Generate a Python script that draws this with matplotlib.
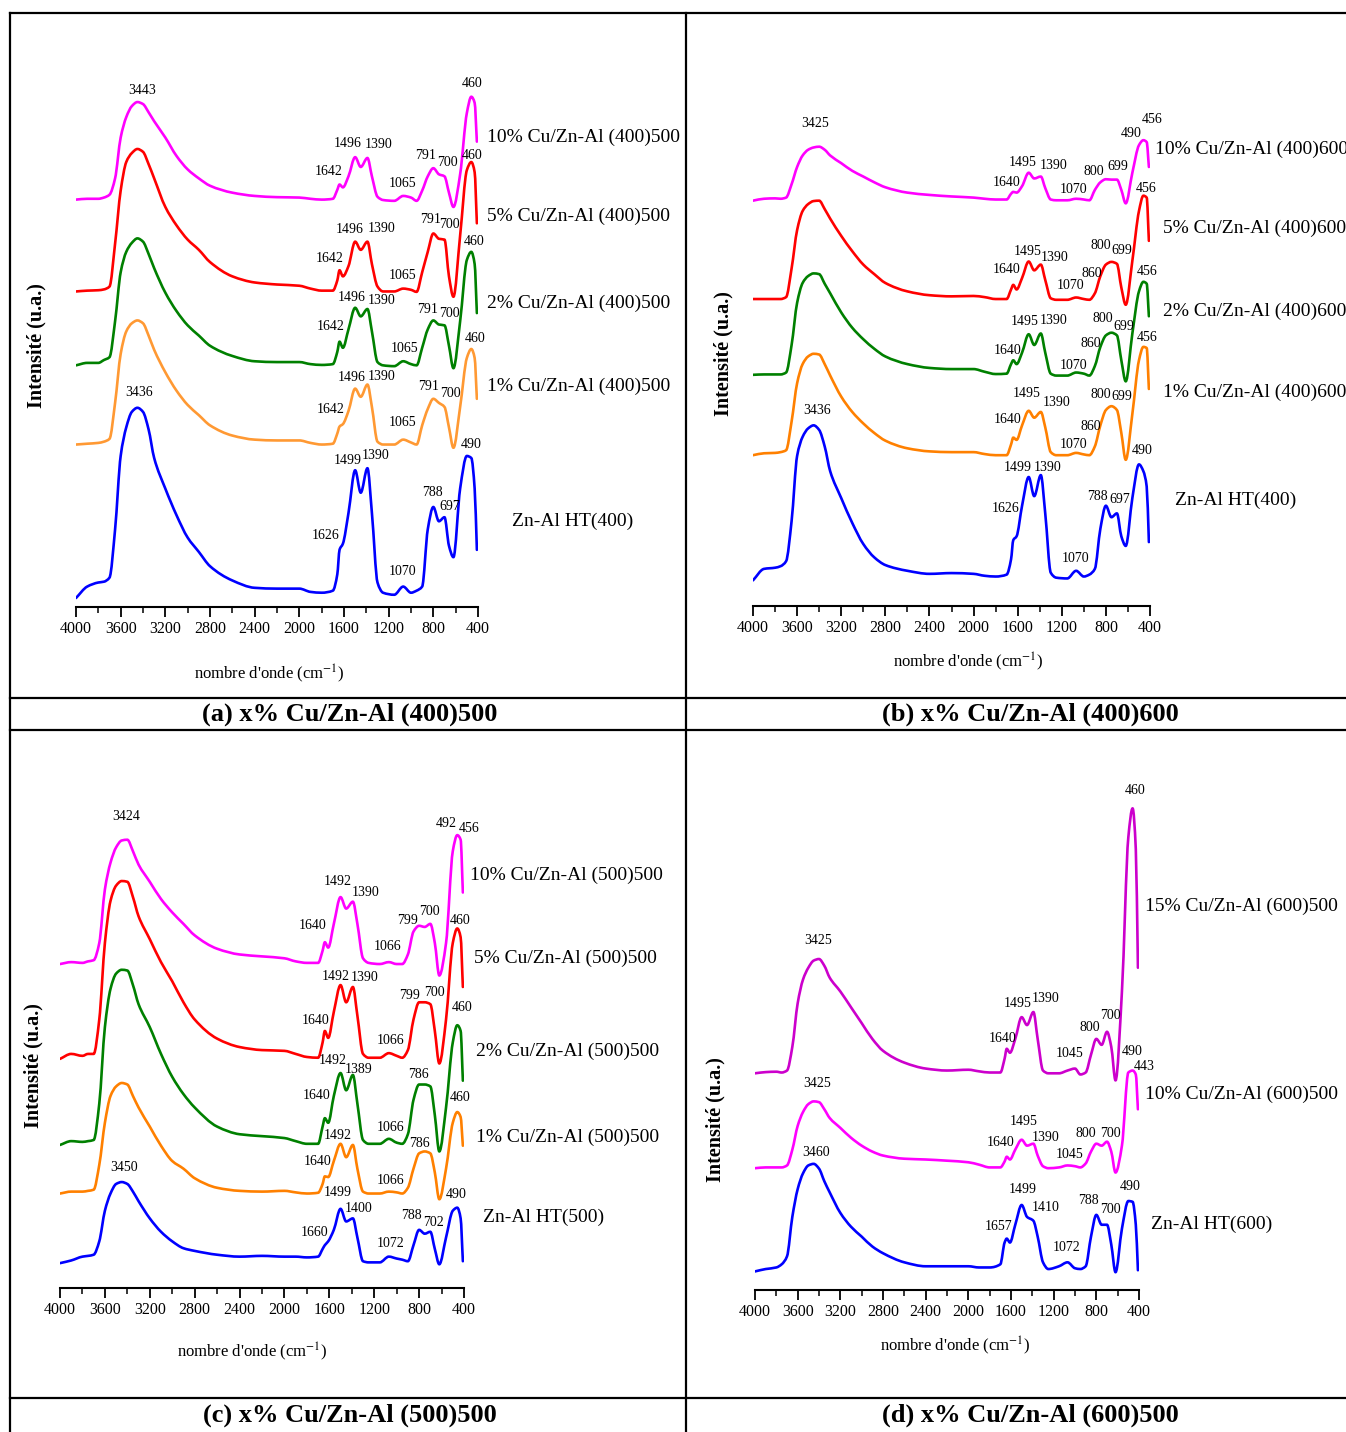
import numpy as np
import matplotlib.pyplot as plt
from matplotlib.ticker import MultipleLocator
from matplotlib.lines import Line2D
from matplotlib.path import Path
from matplotlib.patches import PathPatch

plt.rcParams['font.family'] = ['Liberation Serif', 'DejaVu Serif']
plt.rcParams['mathtext.fontset'] = 'stix'

W, H = 1346, 1432

# wavenumber grid (cm-1) shared by all spectra
wn = [4000, 3900, 3800, 3750, 3700, 3650, 3600, 3550, 3500, 3450, 3400, 3350, 3300, 3200, 3100,
      3000, 2900, 2800, 2600, 2400, 2200, 2000, 1900, 1800, 1700, 1660, 1640, 1610, 1560, 1500,
      1450, 1390, 1350, 1300, 1250, 1150, 1070, 1000, 950, 900, 850, 800, 750, 700, 660, 620,
      560, 500, 460, 430, 410]

# (a) x% Cu/Zn-Al (400)500, intensities in a.u.
a_10 = [998, 1000, 1000, 1003, 1010, 1050, 1150, 1200, 1227, 1237, 1232, 1212, 1190, 1150, 1105,
        1072, 1050, 1032, 1015, 1007, 1004, 1003, 1000, 998, 1000, 1022, 1035, 1028, 1055, 1102,
        1078, 1100, 1055, 1005, 997, 995, 1007, 1003, 995, 1020, 1055, 1075, 1060, 1055, 1015, 980,
        1060, 1210, 1250, 1235, 1140]
a_5 = [773, 775, 776, 778, 785, 890, 1020, 1090, 1112, 1122, 1115, 1085, 1050, 980, 935,
       900, 875, 845, 810, 795, 790, 787, 780, 775, 775, 800, 825, 810, 835, 895,
       875, 895, 840, 785, 773, 773, 780, 777, 772, 820, 870, 915, 902, 900, 810, 760,
       910, 1070, 1090, 1065, 940]
a_2 = [592, 598, 598, 605, 612, 700, 820, 870, 892, 903, 895, 865, 830, 770, 725,
       690, 665, 640, 615, 602, 600, 600, 595, 593, 595, 625, 650, 635, 680, 733,
       712, 730, 675, 600, 592, 590, 602, 595, 592, 635, 680, 702, 692, 690, 640, 585,
       700, 850, 870, 840, 720]
a_1 = [398, 400, 402, 405, 412, 500, 620, 675, 695, 702, 695, 665, 630, 575, 530,
       495, 470, 445, 420, 410, 408, 408, 402, 398, 400, 425, 442, 448, 480, 535,
       515, 545, 490, 405, 398, 398, 410, 403, 398, 445, 485, 510, 500, 490, 440, 390,
       490, 610, 632, 610, 510]
a_ht = [22, 50, 60, 62, 72, 190, 370, 440, 478, 488, 478, 435, 365, 290, 225,
        170, 135, 100, 65, 47, 45, 45, 37, 35, 40, 80, 140, 155, 230, 335,
        280, 340, 230, 60, 35, 30, 50, 35, 40, 50, 190, 245, 210, 220, 150, 122,
        290, 370, 365, 290, 140]

# (b) x% Cu/Zn-Al (400)600
b_10 = [1059, 1064, 1065, 1064, 1067, 1102, 1147, 1177, 1192, 1198, 1200, 1192, 1177, 1157, 1137,
        1122, 1107, 1094, 1080, 1074, 1070, 1067, 1064, 1062, 1062, 1077, 1082, 1080, 1097, 1132,
        1117, 1122, 1092, 1062, 1060, 1060, 1064, 1062, 1060, 1087, 1107, 1115, 1114, 1114, 1087, 1052,
        1132, 1204, 1217, 1212, 1147]
b_5 = [802, 802, 802, 802, 807, 882, 982, 1032, 1050, 1058, 1059, 1037, 1012, 967, 927,
       892, 867, 844, 822, 812, 809, 810, 807, 802, 802, 827, 839, 827, 857, 900,
       877, 892, 852, 804, 800, 800, 806, 802, 800, 817, 862, 892, 899, 894, 832, 787,
       902, 1032, 1072, 1067, 954]
b_2 = [604, 605, 605, 605, 610, 682, 792, 844, 862, 869, 867, 842, 817, 767, 727,
       697, 672, 652, 632, 622, 619, 619, 612, 606, 607, 632, 642, 632, 662, 710,
       682, 712, 662, 607, 602, 602, 610, 607, 602, 627, 677, 707, 714, 707, 642, 587,
       712, 822, 847, 842, 757]
b_1 = [394, 399, 400, 402, 407, 482, 582, 632, 652, 659, 657, 632, 602, 547, 507,
       477, 452, 432, 412, 404, 402, 402, 397, 394, 394, 422, 440, 434, 472, 510,
       492, 507, 467, 402, 394, 394, 400, 396, 394, 417, 472, 512, 522, 512, 452, 382,
       502, 642, 677, 674, 567]
b_ht = [67, 97, 100, 104, 117, 222, 392, 442, 464, 472, 460, 417, 352, 282, 217,
        162, 127, 107, 92, 84, 86, 84, 79, 77, 82, 122, 172, 182, 262, 337,
        287, 342, 242, 87, 74, 72, 92, 77, 82, 97, 202, 262, 232, 242, 182, 157,
        282, 370, 352, 312, 167]

# (c) x% Cu/Zn-Al (500)500
c_10 = [847, 852, 850, 854, 857, 902, 1042, 1112, 1152, 1170, 1172, 1142, 1107, 1062, 1017,
        982, 952, 922, 887, 872, 867, 862, 854, 850, 850, 882, 904, 890, 952, 1022,
        992, 1010, 952, 862, 850, 847, 852, 847, 847, 872, 932, 947, 944, 952, 902, 817,
        902, 1142, 1184, 1172, 1034]
c_5 = [599, 612, 607, 612, 612, 702, 902, 1012, 1052, 1064, 1062, 1022, 972, 912, 852,
       802, 747, 702, 652, 630, 622, 620, 612, 604, 602, 642, 672, 654, 722, 792,
       747, 787, 712, 612, 602, 602, 614, 607, 602, 622, 702, 747, 747, 742, 672, 587,
       702, 902, 940, 917, 787]
c_2 = [374, 384, 382, 384, 387, 482, 682, 782, 822, 832, 830, 792, 742, 682, 612,
       552, 507, 472, 422, 402, 397, 392, 384, 377, 377, 422, 444, 432, 502, 562,
       517, 557, 482, 387, 377, 377, 390, 380, 377, 402, 492, 532, 532, 527, 452, 357,
       472, 642, 687, 672, 542]
c_1 = [247, 252, 252, 254, 257, 322, 432, 502, 527, 536, 532, 502, 472, 422, 372,
       332, 312, 287, 262, 254, 252, 254, 250, 247, 249, 272, 292, 290, 332, 377,
       342, 374, 312, 252, 247, 247, 252, 250, 247, 262, 312, 352, 357, 352, 302, 232,
       312, 432, 460, 447, 372]
c_ht = [65, 72, 82, 84, 87, 122, 202, 247, 272, 277, 272, 252, 227, 182, 147,
        122, 104, 97, 87, 82, 84, 82, 82, 80, 82, 102, 112, 122, 152, 207,
        174, 182, 132, 70, 67, 67, 82, 77, 74, 70, 112, 152, 142, 147, 102, 62,
        132, 202, 210, 182, 70]

# (d) x% Cu/Zn-Al (600)500
d_15 = [548, 551, 552, 550, 555, 615, 725, 785, 815, 833, 837, 820, 790, 755, 715,
        675, 635, 605, 575, 560, 555, 557, 553, 550, 550, 585, 610, 600, 635, 690,
        670, 703, 635, 555, 548, 548, 555, 560, 545, 550, 595, 635, 620, 653, 615, 530,
        755, 1145, 1218, 1115, 815]
d_10 = [308, 310, 310, 310, 315, 355, 415, 450, 470, 477, 475, 457, 435, 410, 385,
        365, 350, 340, 332, 330, 327, 323, 317, 310, 310, 325, 337, 330, 355, 380,
        365, 370, 340, 313, 308, 310, 315, 313, 310, 320, 350, 370, 365, 375, 350, 297,
        365, 550, 555, 545, 457]
d_ht = [47, 53, 57, 65, 85, 185, 255, 295, 315, 319, 307, 275, 247, 195, 160,
        135, 110, 93, 70, 60, 60, 60, 57, 57, 65, 120, 130, 120, 165, 215,
        185, 175, 135, 70, 53, 60, 70, 55, 53, 60, 135, 190, 165, 165, 115, 45,
        155, 225, 223, 165, 50]

# peak labels: (text, wavenumber, intensity)
a_peaks = [("3443", 3405, 1265), ("460", 450, 1283), ("1496", 1566, 1135), ("1390", 1286, 1133),
           ("1642", 1733, 1068), ("1065", 1080, 1038), ("791", 870, 1105), ("700", 672, 1090),
           ("460", 450, 1107), ("1496", 1547, 925), ("1390", 1267, 927), ("1642", 1726, 853),
           ("1065", 1080, 813), ("791", 828, 950), ("700", 652, 937),
           ("460", 439, 895), ("1496", 1531, 758), ("1390", 1267, 750), ("1642", 1722, 688),
           ("1065", 1061, 633), ("791", 851, 728), ("700", 656, 718),
           ("460", 423, 657), ("1496", 1531, 563), ("1390", 1259, 565), ("1642", 1722, 483),
           ("1065", 1072, 452), ("791", 839, 540), ("700", 645, 523),
           ("3436", 3432, 525), ("1499", 1570, 358), ("1390", 1313, 372), ("1626", 1764, 175),
           ("1070", 1080, 88), ("788", 812, 280), ("697", 652, 247), ("490", 458, 398)]
b_peaks = [("3425", 3435, 1260), ("490", 571, 1234), ("456", 384, 1270), ("1495", 1556, 1160),
           ("1390", 1278, 1150), ("1640", 1698, 1107), ("1070", 1091, 1089), ("800", 907, 1135),
           ("699", 690, 1147), ("456", 438, 1090),
           ("1495", 1511, 927), ("1390", 1262, 910), ("1640", 1698, 879), ("1070", 1117, 837),
           ("860", 927, 870), ("800", 850, 942), ("699", 652, 930), ("456", 430, 874),
           ("1495", 1537, 742), ("1390", 1278, 747), ("1640", 1690, 667), ("1070", 1091, 629),
           ("860", 934, 685), ("800", 824, 752), ("699", 640, 730), ("456", 430, 702),
           ("1495", 1518, 555), ("1390", 1251, 532), ("1640", 1694, 487), ("1070", 1091, 422),
           ("860", 934, 470), ("800", 850, 552), ("699", 652, 547),
           ("3436", 3416, 512), ("1499", 1595, 362), ("1390", 1327, 362), ("1626", 1709, 255),
           ("1070", 1079, 124), ("788", 881, 285), ("697", 671, 277), ("490", 468, 407)]
c_peaks = [("3424", 3412, 1232), ("492", 562, 1214), ("456", 357, 1202), ("1492", 1529, 1062),
           ("1390", 1278, 1034), ("1640", 1753, 947), ("1066", 1084, 892), ("799", 899, 962),
           ("700", 709, 984), ("460", 438, 962),
           ("1492", 1541, 815), ("1390", 1285, 812), ("1640", 1722, 700), ("1066", 1057, 647),
           ("799", 883, 765), ("700", 659, 772), ("460", 419, 734),
           ("1492", 1568, 594), ("1389", 1336, 572), ("1640", 1711, 504), ("1066", 1057, 420),
           ("786", 802, 559), ("460", 435, 497),
           ("1492", 1521, 399), ("1640", 1703, 332), ("1066", 1057, 282), ("786", 794, 377),
           ("3450", 3432, 315), ("1499", 1521, 249), ("1400", 1336, 209), ("1660", 1734, 144),
           ("1072", 1057, 117), ("788", 872, 189), ("702", 671, 172), ("490", 466, 244)]
d_peaks = [("460", 432, 1262), ("3425", 3412, 883), ("1495", 1540, 725), ("1390", 1271, 738),
           ("1640", 1678, 637), ("1045", 1047, 598), ("800", 857, 665), ("700", 668, 693),
           ("490", 463, 603), ("443", 353, 565),
           ("3425", 3420, 523), ("1495", 1477, 427), ("1390", 1271, 385), ("1640", 1697, 373),
           ("1045", 1047, 343), ("800", 897, 395), ("700", 668, 395),
           ("3460", 3432, 347), ("1499", 1488, 253), ("1410", 1271, 208), ("1657", 1713, 160),
           ("1072", 1074, 107), ("788", 877, 227), ("700", 668, 203), ("490", 483, 262)]

# sample names: (text, wavenumber, intensity)
a_names = [("10% Cu/Zn-Al (400)500", 322, 1150), ("5% Cu/Zn-Al (400)500", 322, 957),
           ("2% Cu/Zn-Al (400)500", 322, 743), ("1% Cu/Zn-Al (400)500", 322, 540),
           ("Zn-Al HT(400)", 100, 210)]
b_names = [("10% Cu/Zn-Al (400)600", 354, 1192), ("5% Cu/Zn-Al (400)600", 285, 987),
           ("2% Cu/Zn-Al (400)600", 285, 769), ("1% Cu/Zn-Al (400)600", 285, 557),
           ("Zn-Al HT(400)", 171, 277)]
c_names = [("10% Cu/Zn-Al (500)500", 350, 1080), ("5% Cu/Zn-Al (500)500", 311, 862),
           ("2% Cu/Zn-Al (500)500", 292, 619), ("1% Cu/Zn-Al (500)500", 292, 395),
           ("Zn-Al HT(500)", 234, 185)]
d_names = [("15% Cu/Zn-Al (600)500", 345, 970), ("10% Cu/Zn-Al (600)500", 345, 495),
           ("Zn-Al HT(600)", 286, 167)]

captions = ["(a) x% Cu/Zn-Al (400)500", "(b) x% Cu/Zn-Al (400)600",
            "(c) x% Cu/Zn-Al (500)500", "(d) x% Cu/Zn-Al (600)500"]

fig = plt.figure(figsize=(W / 100, H / 100), dpi=100)


def smooth_line(ax, x, y, color):
    # draw the measured points joined by monotone cubic segments (no overshoot)
    x = np.asarray(x, float)
    y = np.asarray(y, float)
    h = np.diff(x)
    d = np.diff(y) / h
    m = np.zeros_like(x)
    m[0], m[-1] = d[0], d[-1]
    for k in range(1, len(x) - 1):
        if d[k - 1] * d[k] > 0:
            w1 = 2 * h[k] + h[k - 1]
            w2 = h[k] + 2 * h[k - 1]
            m[k] = (w1 + w2) / (w1 / d[k - 1] + w2 / d[k])
    verts = [(x[0], y[0])]
    codes = [Path.MOVETO]
    for k in range(len(x) - 1):
        verts += [(x[k] + h[k] / 3, y[k] + m[k] * h[k] / 3),
                  (x[k + 1] - h[k] / 3, y[k + 1] - m[k + 1] * h[k] / 3),
                  (x[k + 1], y[k + 1])]
        codes += [Path.CURVE4] * 3
    ax.add_patch(PathPatch(Path(verts, codes), fill=False, edgecolor=color, lw=1.9,
                           joinstyle='round', capstyle='round'))


def panel(box, ytop, series, colors, peaks, names, xlab_at, ylab_at):
    x0, x1, y0, y1 = box
    ax = fig.add_axes([x0 / W, 1 - y1 / H, (x1 - x0) / W, (y1 - y0) / H])
    ax.patch.set_visible(False)
    for s, c in zip(series, colors):
        smooth_line(ax, wn, s, c)
    ax.set_xlim(4000, 400)
    ax.set_ylim(0, ytop)
    for sp in ['top', 'left', 'right']:
        ax.spines[sp].set_visible(False)
    ax.spines['bottom'].set_linewidth(1.5)
    ax.set_yticks([])
    ax.xaxis.set_major_locator(MultipleLocator(400))
    ax.xaxis.set_minor_locator(MultipleLocator(200))
    ax.tick_params(axis='x', which='major', direction='out', length=7, width=1.3,
                   labelsize=11.5, pad=3)
    ax.tick_params(axis='x', which='minor', direction='out', length=4, width=1.1)
    for t, w, v in peaks:
        ax.text(w, v, t, fontsize=10, ha='center', va='center')
    for t, w, v in names:
        ax.text(w, v, t, fontsize=14, ha='left', va='center')
    fig.text(xlab_at[0] / W, 1 - xlab_at[1] / H, "nombre d'onde (cm$^{-1}$)",
             fontsize=12, ha='center', va='center')
    fig.text(ylab_at[0] / W, 1 - ylab_at[1] / H, "Intensité (u.a.)", fontsize=14.5,
             fontweight='bold', rotation=90, ha='center', va='center')
    return ax


panel((76, 478, 60, 607), 1340, [a_10, a_5, a_2, a_1, a_ht],
      ['#ff00ff', '#ff0000', '#008000', '#ff9933', '#0000ff'],
      a_peaks, a_names, (269, 674), (36, 346))
panel((753, 1150, 100, 606), 1322, [b_10, b_5, b_2, b_1, b_ht],
      ['#ff00ff', '#ff0000', '#008000', '#ff8000', '#0000ff'],
      b_peaks, b_names, (968, 662), (723, 354))
panel((60, 464, 790, 1288), 1302, [c_10, c_5, c_2, c_1, c_ht],
      ['#ff00ff', '#ff0000', '#008000', '#ff8000', '#0000ff'],
      c_peaks, c_names, (252, 1352), (33, 1066))
panel((755, 1139, 770, 1290), 1315, [d_15, d_10, d_ht],
      ['#cc00cc', '#ff00ff', '#0000ff'],
      d_peaks, d_names, (955, 1346), (715, 1120))

# table frame
for xa, ya, xb, yb in [(10, 13, 1346, 13), (10, 13, 10, 1432), (686, 13, 686, 1432),
                       (10, 698, 1346, 698), (10, 730, 1346, 730), (10, 1398, 1346, 1398)]:
    fig.add_artist(Line2D([xa / W, xb / W], [1 - ya / H, 1 - yb / H],
                          transform=fig.transFigure, color='black', lw=1.6))

for cap, cx, cy in zip(captions, [350, 1030, 350, 1030], [714, 714, 1415, 1415]):
    fig.text(cx / W, 1 - cy / H, cap, fontsize=19, fontweight='bold', ha='center', va='center')

fig.savefig('out.png', dpi=100)
